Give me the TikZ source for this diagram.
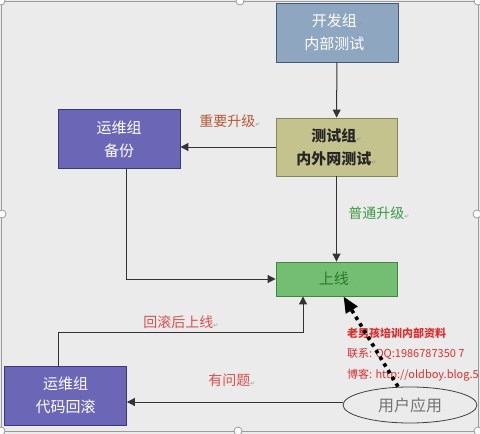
\documentclass[tikz,border=0pt]{standalone}
\usepackage{fontspec}
\setmainfont{Noto Sans CJK SC}
\newfontfamily\markfont{DejaVu Sans}
\usepackage{xcolor}
\usetikzlibrary{arrows.meta,positioning,shapes.geometric,calc}
\definecolor{canvas}{HTML}{EBEBEB}
\definecolor{framegray}{HTML}{9A9A9A}
\definecolor{devfill}{HTML}{8EA6BF}
\definecolor{devline}{HTML}{405C7C}
\definecolor{testfill}{HTML}{C5C38D}
\definecolor{testline}{HTML}{85855A}
\definecolor{opsfill}{HTML}{6B67B6}
\definecolor{opsline}{HTML}{3A3882}
\definecolor{livefill}{HTML}{74BE74}
\definecolor{liveline}{HTML}{3B8B3B}
\definecolor{livetext}{HTML}{2B7A2B}
\definecolor{majorlbl}{HTML}{B65A34}
\definecolor{minorlbl}{HTML}{3C9A46}
\definecolor{faultlbl}{HTML}{D9504C}
\definecolor{stamp}{HTML}{D8302E}
\newcommand\retmark{{\markfont\fontsize{6}{6}\selectfont\color{gray!80}↵}}
\tikzset{
  devbox/.style={draw=devline,fill=devfill,line width=0.9pt,align=center,
                 minimum width=122pt,minimum height=59pt,text=white,
                 font=\fontsize{15}{23}\selectfont},
  testbox/.style={draw=testline,fill=testfill,line width=0.9pt,align=center,
                  minimum width=121pt,minimum height=58pt,text=black!85,
                  font=\fontsize{15}{23}\selectfont\bfseries},
  opsbox/.style={draw=opsline,fill=opsfill,line width=0.9pt,align=center,
                 minimum width=122pt,minimum height=59pt,text=white,
                 font=\fontsize{15}{23}\selectfont},
  livebox/.style={draw=liveline,fill=livefill,line width=0.9pt,align=center,
                  minimum width=121pt,minimum height=34pt,text=livetext,
                  font=\fontsize{15}{18}\selectfont},
  userbox/.style={ellipse,draw=black!75,fill=canvas,line width=0.8pt,
                  minimum width=134pt,minimum height=36pt,text=black!55,
                  font=\fontsize{16}{18}\selectfont},
  flowarr/.style={-{Triangle[length=8pt,width=8pt]},line width=1pt,
                  draw=black!80},
  dotarr/.style={-{Triangle[length=16pt,width=13pt]},line width=3.6pt,
                 dash pattern=on 3.6pt off 4.2pt,draw=black},
  lbl/.style={font=\fontsize{14}{16}\selectfont},
  stampline/.style={anchor=west,text=stamp,inner sep=0pt,
                    font=\fontsize{11}{13}\selectfont},
  handle/.style={circle,draw=framegray,fill=white,line width=0.8pt,
                 minimum size=8pt,inner sep=0pt}
}
\begin{document}
\begin{tikzpicture}[x=1pt,y=-1pt]
    \path[use as bounding box] (0,0) rectangle (480,434);
    \begin{scope}
    \clip (0,0) rectangle (480,434);
    \fill[canvas] (0,0) rectangle (480,434);
    \draw[framegray,line width=0.8pt] (1,1) rectangle (478,431);

    \node[devbox] (dev) at (337,32.5) {开发组\retmark\\内部测试\retmark};
    \node[testbox] (test) at (336.5,147) {测试组\retmark\\内外网测试\retmark};
    \node[opsbox] (backup) at (119,139) {运维组\\备份};
    \node[livebox] (live) at (336.5,279) {上线\retmark};
    \node[opsbox] (rollback) at (65.5,395.5) {运维组\\代码回滚};
    \node[userbox] (user) at (410,405) {用户应用};

    \draw[flowarr] (dev) -- (test);
    \draw[flowarr] (test.west) -- (backup.east |- test.west);
    \draw[flowarr] (test) -- (live);
    \draw[flowarr] ([xshift=7pt]backup.south) |- (live.west);
    \coordinate (turn) at (303,332);
    \draw[flowarr] ([xshift=-7pt]rollback.north) |- (turn) -- (live.south -| turn);
    \coordinate (report) at ([yshift=3pt]user.west);
    \draw[flowarr] (report) -- (rollback.east |- report);

    \node[lbl,text=majorlbl] (major) at (230,121) {重要升级\retmark};
    \node[lbl,text=minorlbl] (minor) at (379,213) {普通升级\retmark};
    \node[lbl,text=faultlbl] (redeploy) at (181,322) {回滚后上线\retmark};
    \node[lbl,text=faultlbl] (fault) at (232,380) {有问题\retmark};

    \node[stampline,font=\fontsize{11}{13}\selectfont\bfseries] (stamp1) at (347,333)
      {老男孩培训内部资料};
    \node[stampline] (stamp2) at (347,354) {联系: QQ:1986787350 7};
    \node[stampline] (stamp3) at (347,375) {博客: http://oldboy.blog.5};

    \draw[dotarr] ([xshift=-12pt]user.north) -- ([xshift=7pt]live.south);

    \node[handle] (h1) at (1,1) {};
    \node[handle] (h2) at (240,1) {};
    \node[handle] (h3) at (478,1) {};
    \node[handle] (h4) at (2,214) {};
    \node[handle] (h5) at (477,214) {};
    \node[handle] (h6) at (1,431) {};
    \node[handle] (h7) at (238,431) {};
    \node[handle] (h8) at (478,431) {};
    \end{scope}
  \end{tikzpicture}
\end{document}
